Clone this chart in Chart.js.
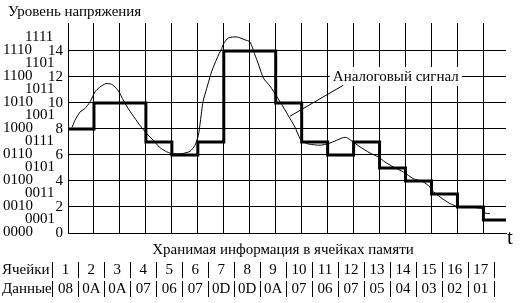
<!DOCTYPE html>
<html>
<head>
<meta charset="utf-8">
<script src="https://cdn.jsdelivr.net/npm/chart.js@4.4.0/dist/chart.umd.min.js"></script>
<style>
  html, body { margin: 0; padding: 0; background: #fff; }
  #wrap { width: 525px; height: 303px; }
</style>
</head>
<body>
<div id="wrap"><canvas id="chart" width="525" height="303"></canvas></div>
<script>
// ---- data ----
const cellNumbers = [1, 2, 3, 4, 5, 6, 7, 8, 9, 10, 11, 12, 13, 14, 15, 16, 17];
const cellCodes = ['08', '0A', '0A', '07', '06', '07', '0D', '0D', '0A', '07', '06', '07', '05', '04', '03', '02', '01'];
// quantized level as drawn on the chart (cells 7-8 are drawn at 14)
const levels = [8, 10, 10, 7, 6, 7, 14, 14, 10, 7, 6, 7, 5, 4, 3, 2, 1];

// analog signal (x in cells, y in levels)
const analogX = [0.15, 0.27, 0.46, 0.65, 0.85, 1.04, 1.23, 1.46, 1.68, 1.87, 2.0, 2.2, 2.45, 2.77, 3.03, 3.29, 3.52, 3.75, 3.99, 4.38, 4.7, 4.89, 5.02, 5.1, 5.2, 5.34, 5.53, 5.73, 5.92, 6.0, 6.17, 6.5, 6.82, 7.01, 7.2, 7.33, 7.53, 7.78, 8.04, 8.29, 8.55, 8.74, 8.94, 9.19, 9.71, 10.03, 10.35, 10.6, 10.73, 10.93, 11.25, 11.63, 11.95, 12.21, 12.53, 12.92, 13.3, 13.69, 13.94, 14.01, 14.33, 14.71, 14.97, 15.36, 15.93, 16.06, 16.25];
const analogY = [8.1, 8.67, 9.3, 9.57, 10.08, 10.85, 11.23, 11.49, 11.44, 11.1, 10.72, 9.95, 9.18, 8.28, 7.65, 7.13, 6.6, 6.3, 6.1, 6.1, 6.28, 6.75, 7.5, 8.6, 10.1, 11.1, 12.4, 13.4, 14.2, 14.57, 15.0, 15.08, 14.85, 14.7, 13.7, 13.0, 11.9, 11.3, 10.5, 9.69, 8.8, 8.15, 7.26, 6.88, 6.75, 6.88, 7.13, 7.34, 7.34, 7.08, 6.62, 6.15, 5.85, 5.46, 5.08, 4.69, 4.18, 3.92, 3.54, 3.28, 2.77, 2.26, 2.05, 2.0, 1.88, 1.54, 1.49];

const yTicks = [0, 1, 2, 3, 4, 5, 6, 7, 8, 9, 10, 11, 12, 13, 14, 15];
const xTicks = [0, 1, 2, 3, 4, 5, 6, 7, 8, 9, 10, 11, 12, 13, 14, 15, 16];
const binaryLabels = ['0000', '0001', '0010', '0011', '0100', '0101', '0110', '0111',
                      '1000', '1001', '1010', '1011', '1100', '1101', '1110', '1111'];

const yAxisTitle = 'Уровень напряжения';
const xAxisTitle = 't';
const tableTitle = 'Хранимая информация в ячейках памяти';
const rowLabels = ['Ячейки', 'Данные'];
const analogLabel = 'Аналоговый сигнал';

const FONT = '15px "Liberation Serif", "Times New Roman", serif';

// ---- build datasets ----
const stepData = levels.map((v, i) => ({ x: i, y: v }));
stepData.push({ x: levels.length, y: levels[levels.length - 1] });
const analogData = analogX.map((x, i) => ({ x, y: analogY[i] }));

// texts, table and the callout
const overlay = {
  id: 'overlay',
  afterDatasetsDraw(chart) {
    const { ctx, chartArea } = chart;
    const xs = chart.scales.x, ys = chart.scales.y;
    ctx.save();
    ctx.fillStyle = '#000';
    ctx.strokeStyle = '#000';
    ctx.lineWidth = 1;
    ctx.font = FONT;
    ctx.textBaseline = 'middle';

    // binary codes next to the y axis
    ctx.textAlign = 'left';
    yTicks.forEach(v => {
      const px = v % 2 === 0 ? 3 : 25;
      ctx.fillText(binaryLabels[v], px, ys.getPixelForValue(v) - 1);
    });

    // axis titles
    ctx.fillText(yAxisTitle, 8, 12);
    ctx.font = '21px "Liberation Serif", serif';
    ctx.fillText(xAxisTitle, chartArea.right + 1, chartArea.bottom + 5);
    ctx.font = FONT;

    // callout
    const lx = xs.getPixelForValue(10.2), ly = ys.getPixelForValue(12);
    const w = ctx.measureText(analogLabel).width;
    ctx.fillStyle = '#fff';
    ctx.fillRect(lx - 3, ly - 10, w + 6, 19);
    ctx.fillStyle = '#000';
    ctx.fillText(analogLabel, lx, ly);
    ctx.beginPath();
    ctx.moveTo(xs.getPixelForValue(10.6), ys.getPixelForValue(11.36));
    ctx.lineTo(xs.getPixelForValue(8.55), ys.getPixelForValue(8.98));
    ctx.stroke();

    // table of memory cells
    const shift = 0.6;
    ctx.textAlign = 'center';
    ctx.fillText(tableTitle, 283, 250);
    ctx.textAlign = 'left';
    ctx.fillText(rowLabels[0], 2, 270);
    ctx.fillText(rowLabels[1], 2, 289);
    ctx.textAlign = 'center';
    cellNumbers.forEach((n, i) => {
      const cx = xs.getPixelForValue(i + 0.5 - shift);
      ctx.fillText(String(n), cx, 270);
      ctx.fillText(cellCodes[i], cx, 289);
    });
    ctx.beginPath();
    for (let k = 0; k <= cellNumbers.length; k++) {
      const sx = Math.round(xs.getPixelForValue(k - shift)) + 0.5;
      ctx.moveTo(sx, 262); ctx.lineTo(sx, 278);
      ctx.moveTo(sx, 281); ctx.lineTo(sx, 297);
    }
    ctx.stroke();
    ctx.restore();
  }
};

new Chart(document.getElementById('chart'), {
  type: 'line',
  data: {
    datasets: [
      {
        data: stepData,
        stepped: true,
        borderColor: '#000',
        borderWidth: 3,
        borderJoinStyle: 'miter',
        pointRadius: 0,
        fill: false
      },
      {
        data: analogData,
        borderColor: '#000',
        borderWidth: 1,
        tension: 0.2,
        pointRadius: 0,
        fill: false
      }
    ]
  },
  options: {
    responsive: false,
    animation: false,
    devicePixelRatio: 1,
    layout: { padding: { left: 0, top: 23, right: 19, bottom: 70 } },
    plugins: { legend: { display: false }, tooltip: { enabled: false } },
    scales: {
      x: {
        type: 'linear',
        min: 0,
        max: 16.87,
        afterBuildTicks: s => { s.ticks = xTicks.map(v => ({ value: v })); },
        afterFit: s => { s.height = 0; },
        ticks: { display: false },
        grid: { color: '#000', lineWidth: 1, drawTicks: false },
        border: { color: '#000', width: 1 }
      },
      y: {
        type: 'linear',
        min: 0,
        max: 16.15,
        afterBuildTicks: s => { s.ticks = yTicks.map(v => ({ value: v })); },
        afterFit: s => { s.width = 68; },
        ticks: {
          color: '#000',
          padding: 5,
          font: { family: '"Liberation Serif", serif', size: 15 },
          callback: v => (v % 2 === 0 ? String(v) : '')
        },
        grid: { color: '#000', lineWidth: 1, drawTicks: false },
        border: { color: '#000', width: 1 }
      }
    }
  },
  plugins: [overlay]
});
</script>
</body>
</html>
